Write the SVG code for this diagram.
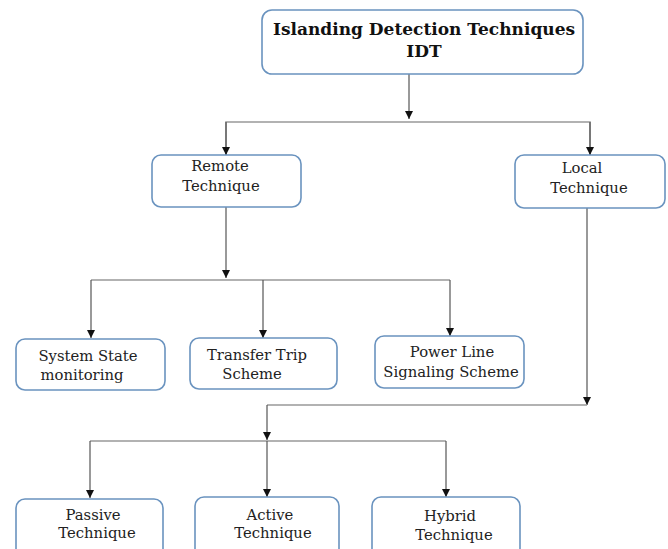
<svg xmlns="http://www.w3.org/2000/svg" width="668" height="549" viewBox="0 0 668 549">
<style>
.box{fill:#fff;stroke:#6a93bf;stroke-width:1.6}
.t{font-family:"DejaVu Serif","Liberation Serif",serif;font-size:14.8px;fill:#222;text-anchor:middle}
.tb{font-family:"DejaVu Serif","Liberation Serif",serif;font-size:17px;font-weight:bold;fill:#111;text-anchor:middle}
.ln{stroke:#555;stroke-width:1.2;fill:none}
.hl{stroke:#999;stroke-width:1.6;fill:none}
</style>
<defs>
<marker id="ah" markerUnits="userSpaceOnUse" markerWidth="8" markerHeight="8" refX="8" refY="4" orient="auto">
<path d="M0,0 L8,4 L0,8 z" fill="#111"/>
</marker>
</defs>
<rect width="668" height="549" fill="#fff"/>
<g id="connectors">
<line class="ln" x1="409" y1="74" x2="409" y2="119" marker-end="url(#ah)"/>
<polyline class="hl" points="226,155 226,122 590,122 590,155"/>
<line class="ln" x1="226" y1="122" x2="226" y2="155" marker-end="url(#ah)"/>
<line class="ln" x1="590" y1="122" x2="590" y2="155" marker-end="url(#ah)"/>
<line class="ln" x1="226" y1="207" x2="226" y2="278" marker-end="url(#ah)"/>
<line class="hl" x1="91" y1="280" x2="450" y2="280"/>
<line class="ln" x1="91" y1="280" x2="91" y2="338" marker-end="url(#ah)"/>
<line class="ln" x1="263" y1="280" x2="263" y2="338" marker-end="url(#ah)"/>
<line class="ln" x1="450" y1="280" x2="450" y2="336" marker-end="url(#ah)"/>
<line class="ln" x1="587" y1="208" x2="587" y2="405" marker-end="url(#ah)"/>
<line class="hl" x1="267" y1="405" x2="587" y2="405"/>
<line class="ln" x1="267" y1="405" x2="267" y2="440" marker-end="url(#ah)"/>
<line class="hl" x1="90" y1="441" x2="446" y2="441"/>
<line class="ln" x1="90" y1="441" x2="90" y2="498" marker-end="url(#ah)"/>
<line class="ln" x1="267" y1="441" x2="267" y2="497" marker-end="url(#ah)"/>
<line class="ln" x1="446" y1="441" x2="446" y2="497" marker-end="url(#ah)"/>
</g>
<g id="idt">
<rect class="box" x="262" y="10" width="321" height="64" rx="10"/>
<text class="tb" x="424" y="35">Islanding Detection Techniques</text>
<text class="tb" x="424" y="57">IDT</text>
</g>
<g id="remote">
<rect class="box" x="152" y="155" width="149" height="52" rx="9"/>
<text class="t" x="220" y="171">Remote</text>
<text class="t" x="221" y="191">Technique</text>
</g>
<g id="local">
<rect class="box" x="515" y="155" width="150" height="53" rx="9"/>
<text class="t" x="582" y="173">Local</text>
<text class="t" x="589" y="193">Technique</text>
</g>
<g id="system-state">
<rect class="box" x="16" y="339" width="149" height="51" rx="9"/>
<text class="t" x="88" y="361">System State</text>
<text class="t" x="82" y="380">monitoring</text>
</g>
<g id="transfer-trip">
<rect class="box" x="190" y="338" width="147" height="51" rx="9"/>
<text class="t" x="257" y="360">Transfer Trip</text>
<text class="t" x="252" y="379">Scheme</text>
</g>
<g id="power-line">
<rect class="box" x="375" y="336" width="149" height="52" rx="9"/>
<text class="t" x="452" y="357">Power Line</text>
<text class="t" x="451" y="377">Signaling Scheme</text>
</g>
<g id="passive">
<rect class="box" x="16" y="499" width="147" height="60" rx="9"/>
<text class="t" x="93" y="520">Passive</text>
<text class="t" x="97" y="538">Technique</text>
</g>
<g id="active">
<rect class="box" x="195" y="497" width="144" height="62" rx="9"/>
<text class="t" x="270" y="520">Active</text>
<text class="t" x="273" y="538">Technique</text>
</g>
<g id="hybrid">
<rect class="box" x="372" y="497" width="148" height="62" rx="9"/>
<text class="t" x="450" y="521">Hybrid</text>
<text class="t" x="454" y="540">Technique</text>
</g>
</svg>
